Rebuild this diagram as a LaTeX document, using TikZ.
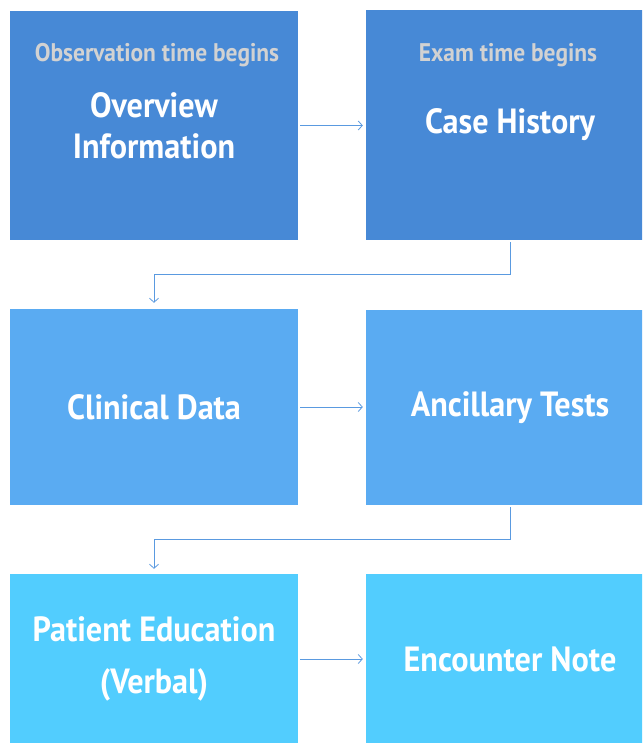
\documentclass[tikz,border=0pt]{standalone}
\usepackage{fontspec}
\setmainfont{PT Sans}[FakeStretch=0.92]
\usetikzlibrary{arrows.meta}
\definecolor{rowone}{HTML}{4789D6}
\definecolor{rowtwo}{HTML}{5AABF2}
\definecolor{rowthree}{HTML}{52CDFE}
\definecolor{linkcol}{HTML}{5A9AE0}
\definecolor{subcol}{HTML}{D2D2D2}
\tikzset{
  box/.style={rectangle, inner sep=0pt, minimum width=288pt, text=white, align=center},
  maintext/.style={font=\bfseries\fontsize{35}{41}\selectfont},
  bigtext/.style={font=\bfseries\fontsize{35}{52}\selectfont},
  subtext/.style={text=subcol, font=\bfseries\fontsize{25.5}{28}\selectfont, anchor=base, inner sep=0pt},
  link/.style={draw=linkcol, line width=0.8pt, -{Straight Barb[length=4pt,width=9pt,line width=0.8pt]}}
}
\begin{document}
\begin{tikzpicture}[x=1pt,y=-1pt]
\clip (0,0) rectangle (642,743);
\fill[white] (0,0) rectangle (642,743);
\node[box, maintext, fill=rowone, minimum height=229pt] (A) at (154,125.5) {Overview\\Information};
\node[box, maintext, fill=rowone, minimum height=230pt] (B) at (510,125) {Case History};
\node[box, maintext, fill=rowtwo, minimum height=196pt] (C) at (154,407) {Clinical Data};
\node[box, maintext, fill=rowtwo, minimum height=195pt] (D) at (510,407.5) {Ancillary Tests};
\node[box, bigtext, fill=rowthree, minimum height=170pt] (E) at (154,659) {Patient Education\\(Verbal)};
\node[box, maintext, fill=rowthree, minimum height=170pt] (F) at (510,659) {Encounter Note};
\node[subtext] (As) at (157,62) {Observation time begins};
\node[subtext] (Bs) at (508,62) {Exam time begins};
\draw[link, shorten <=2pt, shorten >=3pt] (A.east) -- (B.west |- A.east);
\draw[link, shorten <=2pt, shorten >=3pt] (C.east) -- (D.west |- C.east);
\draw[link, shorten <=2pt, shorten >=3pt] (E.east) -- (F.west |- E.east);
\draw[link, shorten <=2pt, shorten >=6pt] (B.south) -- ++(0,34.5) -| (C.north);
\draw[link, shorten <=2pt, shorten >=5pt] (D.south) -- ++(0,34.5) -| (E.north);
\end{tikzpicture}
\end{document}
